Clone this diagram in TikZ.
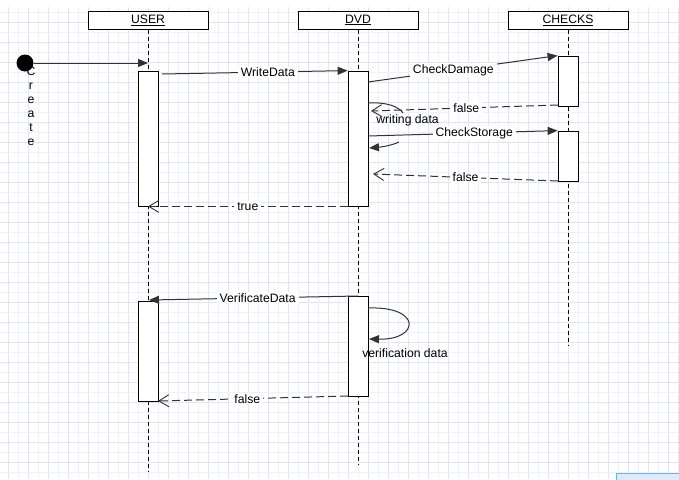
\documentclass[tikz,border=0pt]{standalone}
\usepackage{fontspec}
\setmainfont{Liberation Sans}
\usetikzlibrary{arrows.meta}
\definecolor{gridminor}{RGB}{240,240,252}
\definecolor{gridmajor}{RGB}{226,226,249}
\definecolor{linegray}{RGB}{50,50,50}
\definecolor{panelfill}{RGB}{220,234,250}
\definecolor{panelline}{RGB}{110,180,220}
\tikzset{
  lbl/.style={font=\fontsize{12.2}{14}\selectfont, fill=white, inner xsep=3pt, inner ysep=1pt},
  head/.style={draw, line width=1pt, fill=white, minimum width=120pt, minimum height=18pt, inner sep=0pt,
    font=\fontsize{12.2}{14}\selectfont},
  actbox/.style={draw, line width=0.8pt, fill=white, minimum width=20pt, inner sep=0pt},
  lifeline/.style={line width=0.8pt, dash pattern=on 4pt off 3pt},
  call/.style={line width=1pt, draw=linegray, -{Triangle[length=10pt,width=8pt]}},
  reply/.style={line width=1pt, draw=linegray, dash pattern=on 8pt off 4pt,
    -{Straight Barb[length=10pt,width=12pt,line width=0.9pt]}},
  selfpart/.style={line width=1pt, draw=linegray},
}
\begin{document}
\begin{tikzpicture}[x=1pt,y=-1pt]
\useasboundingbox (0,0) rectangle (679,479);
\fill[white] (0,0) rectangle (679,479);
% background grid
\foreach \k in {0,...,67}{
  \pgfmathtruncatemacro{\gx}{8+10*\k}
  \pgfmathtruncatemacro{\odd}{mod(\k,2)}
  \ifnum\odd=0 \draw[gridmajor, line width=1pt] (\gx,7) -- (\gx,479);
  \else \draw[gridminor, line width=1pt] (\gx,7) -- (\gx,479); \fi
}
\foreach \k in {0,...,46}{
  \pgfmathtruncatemacro{\gy}{12+10*\k}
  \pgfmathtruncatemacro{\odd}{mod(\k,2)}
  \ifnum\odd=1 \draw[gridmajor, line width=1pt] (0,\gy) -- (679,\gy);
  \else \draw[gridminor, line width=1pt] (0,\gy) -- (679,\gy); \fi
}
\draw[panelline, fill=panelfill, line width=1pt] (616.5,473.5) rectangle (685,485);

% lifeline heads
\node[head] (user) at (148,20) {\underline{USER}};
\node[head] (dvd) at (358,20) {\underline{DVD}};
\node[head] (checks) at (568,20) {\underline{CHECKS}};

% lifeline ends
\coordinate (userend) at (148,471);
\coordinate (dvdend) at (358,465);
\coordinate (checksend) at (568,346);
\draw[lifeline] (user.south) -- (userend);
\draw[lifeline] (dvd.south) -- (dvdend);
\draw[lifeline] (checks.south) -- (checksend);

% activations
\node[actbox, minimum height=135pt] (ua1) at (148,138.5) {};
\node[actbox, minimum height=135pt] (da1) at (358,138.5) {};
\node[actbox, minimum height=50pt] (ca1) at (568,81) {};
\node[actbox, minimum height=50pt] (ca2) at (568,156) {};
\node[actbox, minimum height=100pt] (ua2) at (148,351) {};
\node[actbox, minimum height=100pt] (da2) at (358,346) {};

% initial state
\node[circle, fill=black, minimum size=17pt, inner sep=0pt] (start) at (25,63) {};
\coordinate (userhit) at (148,63);
\draw[call] (start) -- (userhit);
\node[font=\fontsize{12.2}{13.9}\selectfont, align=center, inner sep=0pt] (createlbl) at (31,106.5)
  {C\\r\\e\\a\\t\\e};

% write sequence
\coordinate (wd0) at (162,74);
\draw[call] (wd0) -- (da1.north west) node[lbl, pos=0.57] (wdl) {WriteData};
\coordinate (cd0) at (368,82);
\draw[call] (cd0) -- (ca1.north west) node[lbl, pos=0.45] (cdl) {CheckDamage};
\coordinate (f1a) at (558,105);
\coordinate (f1b) at (371,111);
\draw[reply] (f1a) -- (f1b) node[lbl, pos=0.49] (f1l) {false};

% writing data self call
\coordinate (wr0) at (368,103);
\coordinate (wr1) at (403,113);
\coordinate (wr2) at (399,142);
\coordinate (wr3) at (369,148);
\draw[selfpart] (wr0) .. controls (386,102) and (398,106) .. (wr1);
\draw[call] (wr2) .. controls (393,145) and (382,147) .. (wr3);
\node[lbl, fill=none, inner sep=0pt] (wrl) at (407.5,120) {writing data};

\coordinate (cs0) at (368,136);
\draw[call] (cs0) -- (ca2.north west) node[lbl, pos=0.56] (csl) {CheckStorage};
\coordinate (f2a) at (558,181);
\coordinate (f2b) at (373,174);
\draw[reply] (f2a) -- (f2b) node[lbl, pos=0.5] (f2l) {false};
\draw[reply] (da1.south west) -- (ua1.south) node[lbl, pos=0.5] (tl) {true};

% verification sequence
\coordinate (vd0) at (358,296);
\coordinate (vd1) at (149,300);
\draw[call] (vd0) -- (vd1) node[lbl, pos=0.48] (vdl) {VerificateData};
\coordinate (vs0) at (368,308);
\coordinate (vs1) at (369,339);
\draw[call] (vs0) .. controls (422,306) and (420,340) .. (vs1);
\node[lbl, fill=none, inner sep=0pt] (vsl) at (405,353) {verification data};
\coordinate (f3a) at (348,396);
\coordinate (f3b) at (158,401);
\draw[reply] (f3a) -- (f3b) node[lbl, pos=0.53] (f3l) {false};
\end{tikzpicture}
\end{document}
